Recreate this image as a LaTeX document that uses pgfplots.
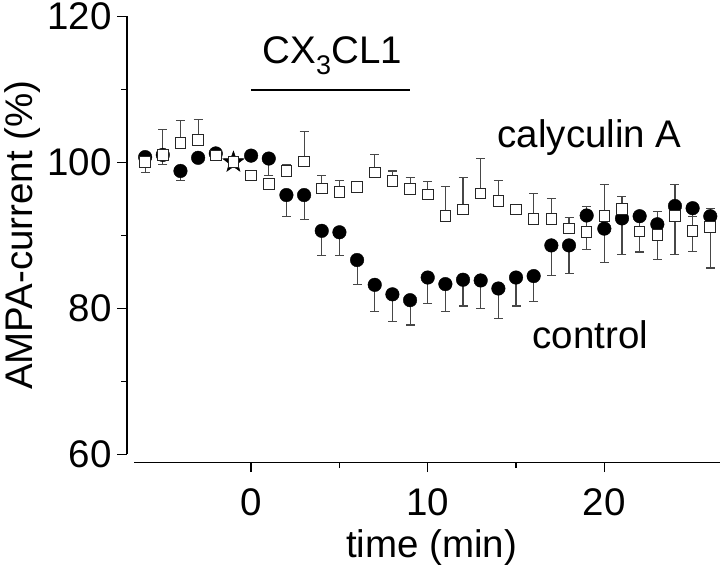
\documentclass[border=0pt]{standalone}
\usepackage{pgfplots}
\pgfplotsset{compat=1.18}
\usepackage{fontspec}
\setmainfont{Liberation Sans}
\pgfdeclareplotmark{fstar}{%
  \pgfpathmoveto{\pgfpointpolar{90}{1.25\pgfplotmarksize}}%
  \pgfpathlineto{\pgfpointpolar{126}{0.5\pgfplotmarksize}}%
  \pgfpathlineto{\pgfpointpolar{162}{1.25\pgfplotmarksize}}%
  \pgfpathlineto{\pgfpointpolar{198}{0.5\pgfplotmarksize}}%
  \pgfpathlineto{\pgfpointpolar{234}{1.25\pgfplotmarksize}}%
  \pgfpathlineto{\pgfpointpolar{270}{0.5\pgfplotmarksize}}%
  \pgfpathlineto{\pgfpointpolar{306}{1.25\pgfplotmarksize}}%
  \pgfpathlineto{\pgfpointpolar{342}{0.5\pgfplotmarksize}}%
  \pgfpathlineto{\pgfpointpolar{18}{1.25\pgfplotmarksize}}%
  \pgfpathlineto{\pgfpointpolar{54}{0.5\pgfplotmarksize}}%
  \pgfpathclose
  \pgfusepathqfillstroke
}
\pgfplotstableread{
x y em
-6 100.7 2.1
-5 101.0 1.3
-4 98.8 1.3
-3 100.6 0
-2 101.2 0.3
0 100.9 0
1 100.5 2.3
2 95.5 2.9
3 95.5 3.3
4 90.6 3.4
5 90.4 3.2
6 86.6 3.4
7 83.2 3.7
8 81.9 3.7
9 81.1 3.4
10 84.2 3.6
11 83.3 3.8
12 83.9 3.6
13 83.8 3.9
14 82.7 4.1
15 84.2 3.9
16 84.4 3.5
17 88.6 4.1
18 88.6 3.9
19 92.7 4.6
20 90.9 4.6
21 92.3 4.9
22 92.6 4.9
23 91.5 4.8
24 94.0 6.6
25 93.7 5.9
26 92.6 7.1
}\control
\pgfplotstableread{
x y ep
-6 100.0 0.5
-5 101.0 3.5
-4 102.6 3.1
-3 103.0 2.8
-2 100.9 0.4
-1 100.0 0
0 98.2 0.7
1 97.0 0.8
2 98.8 0.9
3 100.1 4.1
4 96.4 1.8
5 95.9 1.6
6 96.6 0
7 98.6 2.5
8 97.4 1.4
9 96.3 1.6
10 95.6 1.7
11 92.6 4.1
12 93.5 4.4
13 95.7 4.8
14 94.7 2.8
15 93.5 0
16 92.2 3.5
17 92.2 2.8
18 90.9 1.5
19 90.4 3.5
20 92.6 4.3
21 93.6 1.7
22 90.5 2.0
23 90.0 3.2
24 92.6 4.4
25 90.6 2.0
26 91.1 2.5
}\calyc
\begin{document}%
\fontsize{38.5}{46}\selectfont%
\begin{tikzpicture}
\begin{axis}[
  scale only axis,
  width=586pt, height=438pt,
  xmin=-6.63, xmax=26.55, ymin=60, ymax=120,
  axis x line*=bottom, axis y line*=left,
  axis x line shift=8pt, axis y line shift=7pt,
  axis line style={line width=1.3pt, -},
  xtick={0,10,20}, ytick={60,80,100,120},
  minor x tick num=1, minor y tick num=1,
  tick align=outside,
  major tick length=10pt, minor tick length=6pt,
  every tick/.style={line width=1.3pt, black},
  every tick label/.append style={inner sep=0pt},
  xticklabel style={yshift=-16pt},
  yticklabel style={xshift=-5pt},
  /pgf/number format/assume math mode=true,
  clip=false,
  xlabel={time (min)}, ylabel={AMPA-current (\%)},
  xlabel style={at={(axis description cs:0.508,-0.212)}, anchor=center},
  ylabel style={at={(axis description cs:-0.191,0.5)}, anchor=center, rotate=0},
]
\addplot[only marks, mark=*, mark size=6.8pt, mark options={fill=black, draw=black},
  error bars/.cd, y dir=minus, y explicit,
  error bar style={line width=1.1pt, black!72},
  error mark options={rotate=90, mark size=4.5pt, line width=1.1pt, black!72}]
  table[x=x, y=y, y error=em] {\control};
\addplot[only marks, mark=fstar, mark size=9pt, mark options={fill=black, draw=black}]
  coordinates {(-1,100)};
\addplot[only marks, mark=square*, mark size=5.3pt, mark options={fill=white, draw=black!85, line width=1pt},
  error bars/.cd, y dir=plus, y explicit,
  error bar style={line width=1.1pt, black!72},
  error mark options={rotate=90, mark size=4.5pt, line width=1.1pt, black!72}]
  table[x=x, y=y, y error=ep] {\calyc};
\draw[line width=1.5pt] (axis cs:0,109.9) -- (axis cs:9,109.9);
\node at (axis cs:4.6,114.6) {CX\textsubscript{3}CL1};
\node at (axis cs:19.17,103.4) {calyculin A};
\node at (axis cs:19.2,76.3) {control};
\coordinate (bbl) at (rel axis cs:-0.2287,-0.262);
\coordinate (btr) at (rel axis cs:1,1.037);
\end{axis}
\pgfresetboundingbox
\useasboundingbox (bbl) rectangle (btr);
\end{tikzpicture}%
\end{document}
